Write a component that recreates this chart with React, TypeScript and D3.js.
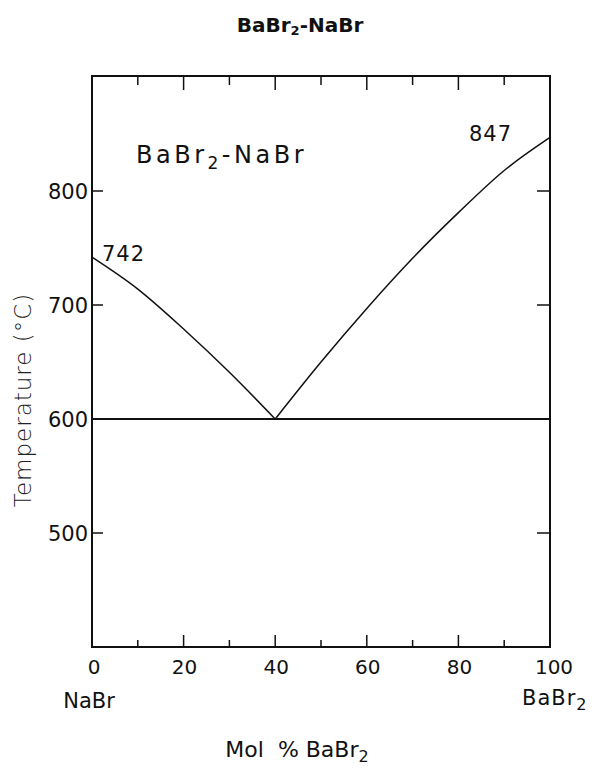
import React from "react";
import * as d3 from "d3";

const leftX = [0, 10, 20, 30, 40];
const leftT = [742, 714, 679, 641, 600];
const rightX = [40, 50, 60, 70, 80, 90, 100];
const rightT = [600, 650, 697, 741, 781, 818, 847];
const eutecticT = 600;
const xTicks = [0, 10, 20, 30, 40, 50, 60, 70, 80, 90, 100];
const xLabels = [0, 20, 40, 60, 80, 100];
const yTicks = [500, 600, 700, 800];

const W = 595, H = 773;
const FONT = "'DejaVu Sans', sans-serif";

export default function App() {
  const x = d3.scaleLinear().domain([0, 100]).range([92, 550]);
  const y = d3.scaleLinear().domain([400, 900]).range([647, 77]);
  const line = d3
    .line<[number, number]>()
    .x((d) => x(d[0]))
    .y((d) => y(d[1]))
    .curve(d3.curveMonotoneX);
  const leftPts = leftX.map((v, i) => [v, leftT[i]] as [number, number]);
  const rightPts = rightX.map((v, i) => [v, rightT[i]] as [number, number]);
  const [x0, x1] = x.range();
  const top = 76, bottom = 647;

  return (
    <svg
      width={W}
      height={H}
      style={{ position: "absolute", left: 0, top: 0, background: "#fff" }}
      fontFamily={FONT}
    >
      <text x={300} y={32} textAnchor="middle" fontSize={20} fontWeight="bold" fill="#111">
        BaBr<tspan fontSize={13} dy={3}>2</tspan>
        <tspan dy={-3}>-NaBr</tspan>
      </text>

      {/* frame */}
      <rect x={x0} y={top} width={x1 - x0} height={bottom - top} fill="none" stroke="#111" strokeWidth={2} />

      {/* x ticks bottom & top */}
      {xTicks.map((t) => {
        const major = t % 20 === 0;
        if (t === 0 || t === 100) return null;
        return (
          <g key={t}>
            <line x1={x(t)} x2={x(t)} y1={bottom} y2={bottom - (major ? 12 : 7)} stroke="#111" strokeWidth={1.5} />
            <line x1={x(t)} x2={x(t)} y1={top} y2={top + (major ? 14 : 9)} stroke="#111" strokeWidth={1.5} />
          </g>
        );
      })}
      {xLabels.map((t) => (
        <text key={t} x={x(t) + (t === 100 ? 4 : t === 0 ? 2 : 1)} y={674} textAnchor="middle" fontSize={20} fill="#111">
          {t}
        </text>
      ))}

      {/* y ticks */}
      {yTicks.map((t) => (
        <g key={t}>
          <line x1={x0} x2={x0 + 11} y1={y(t)} y2={y(t)} stroke="#111" strokeWidth={1.5} />
          <line x1={x1} x2={x1 - 13} y1={y(t)} y2={y(t)} stroke="#111" strokeWidth={1.5} />
          <text x={88} y={y(t) + 7.5} textAnchor="end" fontSize={21} fill="#111">
            {t}
          </text>
        </g>
      ))}

      {/* eutectic line */}
      <line x1={x0} x2={x1} y1={y(eutecticT)} y2={y(eutecticT)} stroke="#111" strokeWidth={2} />

      {/* liquidus */}
      <path d={line(leftPts) || ""} fill="none" stroke="#111" strokeWidth={1.5} />
      <path d={line(rightPts) || ""} fill="none" stroke="#111" strokeWidth={1.5} />

      {/* annotations */}
      <text x={102} y={261} fontSize={21} letterSpacing={1} fill="#111">742</text>
      <text x={469} y={141} fontSize={21} letterSpacing={1} fill="#111">847</text>
      <text x={136} y={163} fontSize={24} letterSpacing={3.5} fill="#111">
        BaBr<tspan fontSize={17} dy={6}>2</tspan>
        <tspan dy={-6}>-NaBr</tspan>
      </text>

      {/* end labels */}
      <text x={89} y={708} textAnchor="middle" fontSize={21} fill="#111">NaBr</text>
      <text x={522} y={705} fontSize={21} letterSpacing={1} fill="#111">
        BaBr<tspan fontSize={16} dy={5}>2</tspan>
      </text>

      {/* axis titles */}
      <text x={297} y={757} textAnchor="middle" fontSize={22} fill="#111">
        Mol{"\u00A0\u00A0"}%{" "}BaBr<tspan fontSize={16} dy={5}>2</tspan>
      </text>
      <text
        transform={`translate(31,400) rotate(-90)`}
        textAnchor="middle"
        fontSize={23}
        fontWeight={200}
        letterSpacing={1}
        fill="#222"
      >
        Temperature ({"\u00B0"}C)
      </text>
    </svg>
  );
}
